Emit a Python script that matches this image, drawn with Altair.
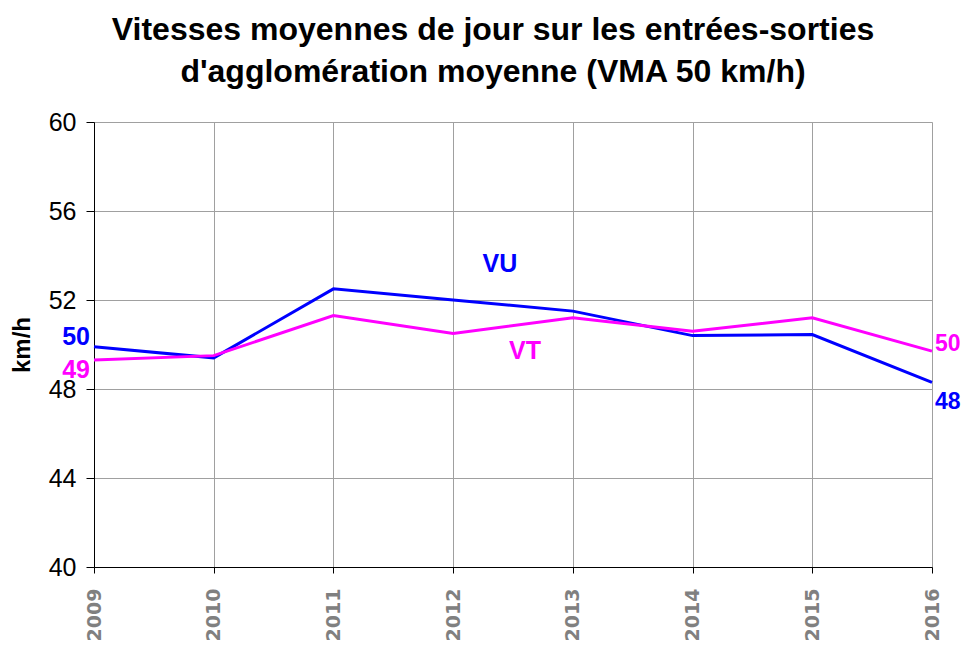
import altair as alt
import pandas as pd

years = [2009, 2010, 2011, 2012, 2013, 2014, 2015, 2016]
vu = [49.9, 49.4, 52.5, 52.0, 51.5, 50.4, 50.45, 48.3]
vt = [49.3, 49.5, 51.3, 50.5, 51.2, 50.6, 51.2, 49.7]
series_names = ["VU", "VT"]
series_colors = ["#0000FF", "#FF00FF"]
# annotation anchor (year, km/h) of the series names
name_pos_x = [2012.39, 2012.6]
name_pos_y = [53.6, 49.7]

rows = []
for y, a, b in zip(years, vu, vt):
    rows.append({"year": y, "value": a, "serie": "VU"})
    rows.append({"year": y, "value": b, "serie": "VT"})
df = pd.DataFrame(rows)

xs = alt.X("year:Q", scale=alt.Scale(domain=[2009, 2016], nice=False, zero=False),
           axis=alt.Axis(values=years, format="d", title=None, labelAngle=270,
                         labelAlign="right", labelBaseline="middle",
                         labelFont="DejaVu Sans", labelFontWeight="bold",
                         labelFontSize=19, labelColor="#808080", labelPadding=15,
                         tickSize=6, tickColor="#000000", domainColor="#000000",
                         gridColor="#A0A0A0", grid=True, labelFlush=False))
ys = alt.Y("value:Q", scale=alt.Scale(domain=[40, 60], nice=False, zero=False),
           axis=alt.Axis(values=[40, 44, 48, 52, 56, 60], title="km/h",
                         titleFont="Liberation Sans", titleFontWeight="bold",
                         titleFontSize=24, titleColor="#000000", titlePadding=14,
                         labelFont="Liberation Sans", labelFontSize=25,
                         labelColor="#000000", labelPadding=10, tickSize=8,
                         tickColor="#000000", domainColor="#000000",
                         gridColor="#A0A0A0", grid=True, labelFlush=False))
color = alt.Color("serie:N", scale=alt.Scale(domain=series_names, range=series_colors),
                  legend=None)

base = alt.Chart(df)
lines = base.mark_line(strokeWidth=3).encode(x=xs, y=ys, color=color)

df_lab = df.copy()
df_lab["txt"] = df_lab["value"].round().astype(int).astype(str)

def end_label(serie, year, dx, dy, align, size):
    return alt.Chart(df_lab[(df_lab.serie == serie) & (df_lab.year == year)]).mark_text(
        font="Liberation Sans", fontWeight="bold", fontSize=size, dx=dx, dy=dy,
        align=align, baseline="middle").encode(
        x="year:Q", y="value:Q", text="txt:N", color=color)

labels = (end_label("VU", 2009, -4, -10, "right", 25)
          + end_label("VT", 2009, -4, 10, "right", 25)
          + end_label("VT", 2016, 3, -7, "left", 23)
          + end_label("VU", 2016, 3, 20, "left", 23))

df_names = pd.DataFrame({"serie": series_names, "year": name_pos_x, "value": name_pos_y})
names = alt.Chart(df_names).mark_text(font="Liberation Sans", fontWeight="bold",
                                      fontSize=25, align="center", baseline="middle").encode(
    x="year:Q", y="value:Q", text="serie:N", color=color)

chart = (lines + labels + names).properties(
    width=838, height=445,
    autosize=alt.AutoSizeParams(type="none"),
    padding={"left": 86, "top": 114, "right": 29, "bottom": 78},
    title=alt.TitleParams(
        ["Vitesses moyennes de jour sur les entrées-sorties",
         "d'agglomération moyenne (VMA 50 km/h)"],
        font="Liberation Sans", fontSize=32, fontWeight="bold", color="#000000",
        anchor="middle", dx=-20, offset=21, lineHeight=42),
).configure_view(stroke=None).configure(background="white")

chart.save("out.html", embed_options={"renderer": "svg", "actions": False})
